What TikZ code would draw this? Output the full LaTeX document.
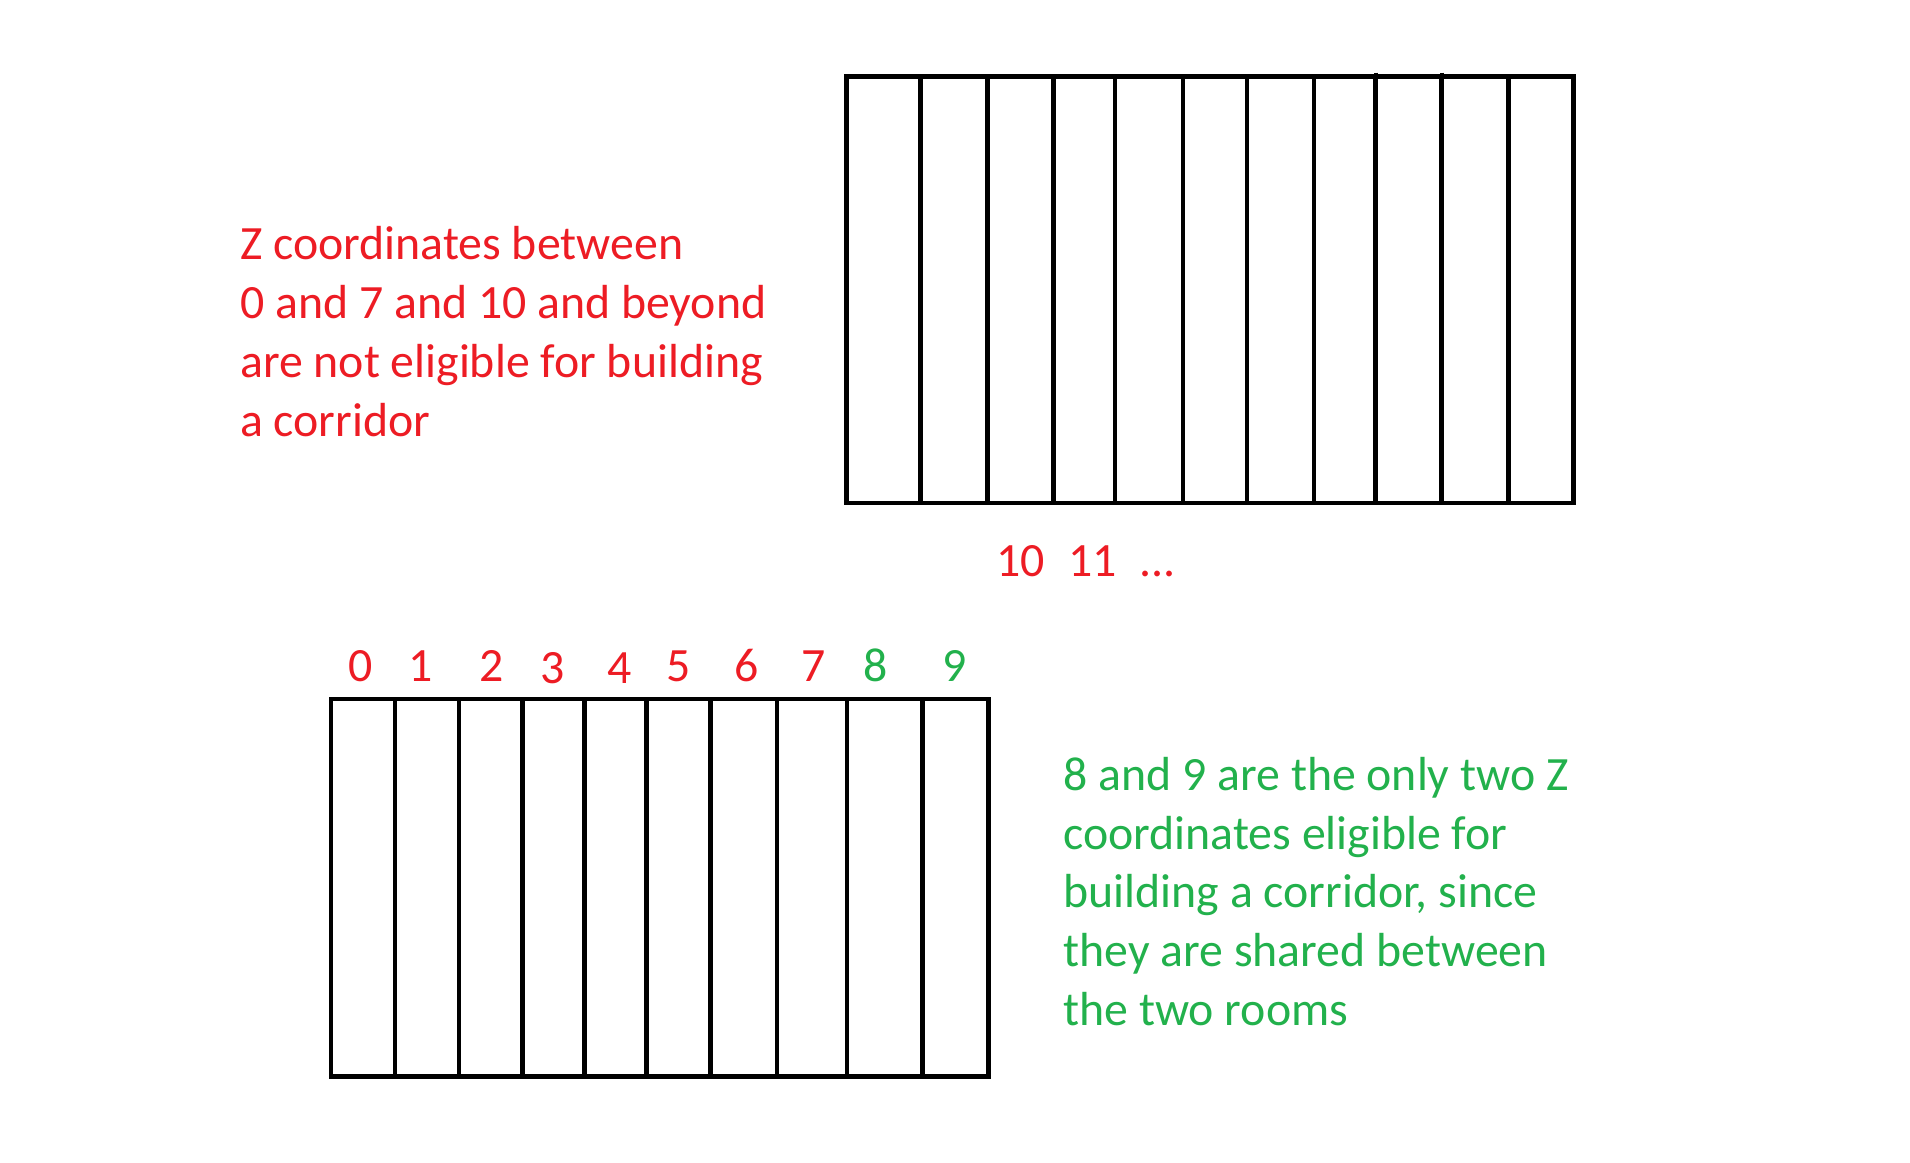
\documentclass[tikz,border=0pt]{standalone}
\usepackage{fontspec}
\setmainfont{Carlito}
\definecolor{pred}{RGB}{237,28,36}
\definecolor{pgreen}{RGB}{34,177,76}
\begin{document}
\begin{tikzpicture}[x=1pt,y=-1pt,
  wall/.style={line width=4.8pt, black},
  lbl/.style={font=\fontsize{47.8}{58.8}\selectfont, inner sep=0pt, align=left},
  redlbl/.style={lbl, text=pred},
  greenlbl/.style={lbl, text=pgreen}]
\useasboundingbox[fill=white] (0,0) rectangle (1910,1162);
% top room
\draw[wall] (846.6,76.7) rectangle (1573.6,503);
\foreach \x in {920.4,987.3,1053.3,1115,1182.9,1247,1314,1375.6,1441.6,1508.1}
  \draw[wall] (\x,76.7) -- (\x,503);
\draw[line width=4pt] (1375.6,72.5) -- (1375.6,80);
\draw[line width=4pt] (1441.6,72.5) -- (1441.6,80);
% bottom room
\draw[wall] (331,699) rectangle (988.5,1076.7);
\foreach \x in {394.9,458.9,522.5,584.4,646.7,710.7,776.9,847,922.8}
  \draw[wall] (\x,699) -- (\x,1076.7);
% bottom numbers
\node[redlbl, anchor=base] (n0) at (361.1,681.5) {0};
\node[redlbl, anchor=base] (n1) at (420.8,681.5) {1};
\node[redlbl, anchor=base] (n2) at (491.8,681.5) {2};
\node[redlbl, anchor=base] (n3) at (552.4,683.3) {3};
\node[redlbl, anchor=base] (n4) at (619.9,683.3) {4};
\node[redlbl, anchor=base] (n5) at (678.3,681.5) {5};
\node[redlbl, anchor=base] (n6) at (746.2,681.5) {6};
\node[redlbl, anchor=base] (n7) at (813.3,681.5) {7};
\node[greenlbl, anchor=base] (n8) at (876,681.5) {8};
\node[greenlbl, anchor=base] (n9) at (954.3,681.5) {9};
% top numbers
\node[redlbl, anchor=base west] (n10) at (996,576.5) {10};
\node[redlbl, anchor=base west] (n11) at (1068.3,576.5) {11};
\node[redlbl, anchor=base west] (ndots) at (1139,576.5) {...};
% texts (base anchor = last line's baseline)
\node[redlbl, anchor=base west] (redtext) at (240,436)
  {Z coordinates between\\0 and 7 and 10 and beyond\\are not eligible for building\\a corridor};
\node[greenlbl, anchor=base west] (greentext) at (1063.3,1025.5)
  {8 and 9 are the only two Z\\coordinates eligible for\\building a corridor, since\\they are shared between\\the two rooms};
\end{tikzpicture}
\end{document}
